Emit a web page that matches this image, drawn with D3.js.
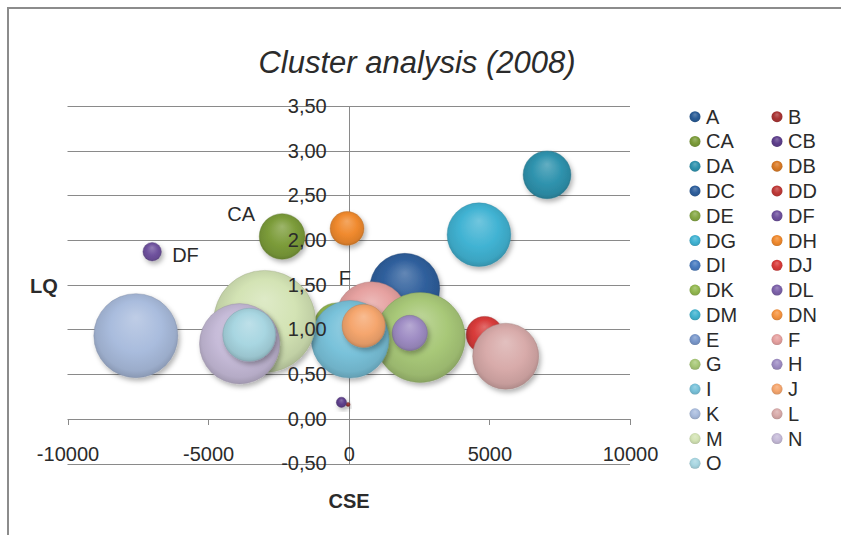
<!DOCTYPE html>
<html lang="en">
<head>
<meta charset="utf-8">
<title>Cluster analysis (2008)</title>
<style>
body{
  margin: 0;
  background: #fff;
}
#chart text{
  font-family: "Liberation Sans", Arial, sans-serif;
  fill: #2b2b2b;
}
.axis path, .axis line{
  fill: none;
  stroke: #8a8a8a;
  shape-rendering: crispEdges;
}
</style>
<script src="https://d3js.org/d3.v7.min.js"></script>
</head>
<body>
<div id="chart"></div>

<script>
// series as they appear in the legend (Excel order)
var seriesNames = ['A','B','CA','CB','DA','DB','DC','DD','DE','DF','DG','DH','DI','DJ','DK',
                   'DL','DM','DN','E','F','G','H','I','J','K','L','M','N','O'];
// CSE (x), LQ (y) and bubble size; null = bubble not visible
var cseValues = [null, -25, -2370, -260, 7050, null, 1990, null, null, -6990, 4630, -60, null, 4830, -450,
                 null, null, null, null, 820, 2540, 2170, 50, 530, -7570, 5580, -2990, -3880, -3540];
var lqValues  = [null, 0.16, 2.04, 0.185, 2.73, null, 1.46, null, null, 1.87, 2.06, 2.13, null, 0.94, 1.05,
                 null, null, null, null, 1.13, 0.91, 0.96, 0.89, 1.04, 0.93, 0.70, 1.09, 0.84, 0.94];
var bubbleSizes = [null, 0.15, 20, 1, 22, null, 47, null, null, 3.3, 39, 11, null, 13, 18.6,
                   null, null, null, null, 50, 78, 12, 58, 18, 68, 42, 100, 62, 27];
var xTicks = [-10000, -5000, 0, 5000, 10000];
var yTicks = [-0.5, 0, 0.5, 1, 1.5, 2, 2.5, 3, 3.5];
var labelledSeries = ['CA', 'DF', 'F'];

var colors = ['#2a5c96','#a93434','#7c9c3a','#5e3f8c','#2f93ae','#d97a26','#2f5f9c','#bf3a38','#86a845',
              '#6f529e','#41b3d3','#f08a2e','#4a7cc0','#d83b3a','#93b850','#7d62aa','#43b4d0','#f59440',
              '#7a98cb','#e6a1a0','#a8c878','#9f8dc4','#79c2da','#f5a66e','#a9bcdd','#d8abaa','#d3e3b4',
              '#c6bbd8','#a8d6e1'];

var W = 841, H = 535;
var svg = d3.select('#chart').append('svg')
  .attr('width', W).attr('height', H);

// chart frame
svg.append('rect')
  .attr('x', 8).attr('y', 8)
  .attr('width', 900).attr('height', 600)
  .attr('fill', '#fff')
  .attr('stroke', '#8c8c8c')
  .attr('stroke-width', 2);

var defs = svg.append('defs');
var shadow = defs.append('filter').attr('id', 'shadow')
  .attr('x', '-30%').attr('y', '-30%').attr('width', '170%').attr('height', '170%');
shadow.append('feDropShadow')
  .attr('dx', 2).attr('dy', 3).attr('stdDeviation', 2.5)
  .attr('flood-color', '#000').attr('flood-opacity', 0.3);

colors.forEach(function(c, i) {
  var base = d3.color(c);
  var g = defs.append('radialGradient').attr('id', 'grad' + i)
    .attr('cx', '50%').attr('cy', '48%').attr('r', '55%')
    .attr('fx', '50%').attr('fy', '28%');
  g.append('stop').attr('offset', '0%').attr('stop-color', d3.interpolateRgb(c, '#fff')(0.25));
  g.append('stop').attr('offset', '55%').attr('stop-color', c);
  g.append('stop').attr('offset', '85%').attr('stop-color', base.darker(0.25));
  g.append('stop').attr('offset', '100%').attr('stop-color', base.darker(0.7));
});

var x = d3.scaleLinear().domain([-10000, 10000]).range([67.5, 630]);
var y = d3.scaleLinear().domain([-0.5, 3.5]).range([463.5, 106]);
var r = d3.scaleSqrt().domain([0, 100]).range([0, 51]);

// title
svg.append('text')
  .attr('x', 417).attr('y', 73)
  .attr('text-anchor', 'middle')
  .style('font-size', '31px')
  .style('font-style', 'italic')
  .text('Cluster analysis (2008)');

// horizontal gridlines
svg.append('g').selectAll('line')
  .data(yTicks)
  .enter().append('line')
  .attr('x1', x(-10000)).attr('x2', x(10000))
  .attr('y1', function(d) { return Math.round(y(d)) + 0.5; })
  .attr('y2', function(d) { return Math.round(y(d)) + 0.5; })
  .attr('stroke', '#8a8a8a');

// axis lines (under the bubbles)
var xAxis = d3.axisBottom(x).tickValues(xTicks).tickSize(6).tickSizeOuter(6).tickPadding(22)
  .tickFormat(function(d) { return String(d); });
var yAxis = d3.axisLeft(y).tickValues(yTicks).tickSize(0).tickSizeOuter(0).tickPadding(22)
  .tickFormat(function(d) { return d.toFixed(2).replace('.', ','); });

svg.append('g').attr('class', 'axis')
  .attr('transform', 'translate(0,' + y(0) + ')')
  .call(xAxis)
  .selectAll('text').remove();
svg.append('g').attr('class', 'axis')
  .attr('transform', 'translate(' + x(0) + ',0)')
  .call(yAxis)
  .selectAll('text').remove();

// axis titles
svg.append('text').attr('x', 44).attr('y', 293)
  .attr('text-anchor', 'middle')
  .style('font-size', '20px').style('font-weight', 'bold')
  .text('LQ');
svg.append('text').attr('x', 349).attr('y', 508)
  .attr('text-anchor', 'middle')
  .style('font-size', '20px').style('font-weight', 'bold')
  .text('CSE');

// bubbles, drawn in series order
var points = seriesNames.map(function(name, i) {
  return { name: name, i: i, cse: cseValues[i], lq: lqValues[i], size: bubbleSizes[i] };
}).filter(function(d) { return d.cse !== null; });

svg.append('g').selectAll('circle')
  .data(points)
  .enter().append('circle')
  .attr('cx', function(d) { return x(d.cse); })
  .attr('cy', function(d) { return y(d.lq); })
  .attr('r', function(d) { return r(d.size); })
  .attr('fill', function(d) { return 'url(#grad' + d.i + ')'; })
  .attr('stroke', function(d) { return d3.color(colors[d.i]).darker(0.8); })
  .attr('stroke-opacity', 0.5)
  .attr('stroke-width', 0.8)
  .attr('filter', 'url(#shadow)');

// tick labels sit on top of the bubbles
var xLab = svg.append('g').attr('class', 'axis')
  .attr('transform', 'translate(0,' + y(0) + ')')
  .call(xAxis);
xLab.selectAll('path, line').remove();
xLab.selectAll('text').style('font-size', '20px').attr('fill', '#2b2b2b');

var yLab = svg.append('g').attr('class', 'axis')
  .attr('transform', 'translate(' + x(0) + ',0)')
  .call(yAxis);
yLab.selectAll('path, line').remove();
yLab.selectAll('text').style('font-size', '20px').attr('fill', '#2b2b2b');

// data labels
var labelOffsets = { CA: [-41, 7 - 22, 'middle'], DF: [20, 10, 'start'], F: [-27, 7 - 40, 'middle'] };
svg.append('g').selectAll('text')
  .data(points.filter(function(d) { return labelledSeries.indexOf(d.name) >= 0; }))
  .enter().append('text')
  .attr('x', function(d) { return x(d.cse) + labelOffsets[d.name][0]; })
  .attr('y', function(d) { return y(d.lq) + labelOffsets[d.name][1]; })
  .attr('text-anchor', function(d) { return labelOffsets[d.name][2]; })
  .style('font-size', '20px')
  .text(function(d) { return d.name; });

// legend, two columns
var legend = svg.append('g').selectAll('g')
  .data(seriesNames)
  .enter().append('g')
  .attr('transform', function(d, i) {
    return 'translate(' + (i % 2 === 0 ? 695 : 777) + ',' + (116.7 + Math.floor(i / 2) * 24.76) + ')';
  });
legend.append('circle')
  .attr('r', 5.5)
  .attr('fill', function(d, i) { return 'url(#grad' + i + ')'; });
legend.append('text')
  .attr('x', 11).attr('y', 7)
  .style('font-size', '20px')
  .text(function(d) { return d; });
</script>
</body>
</html>
